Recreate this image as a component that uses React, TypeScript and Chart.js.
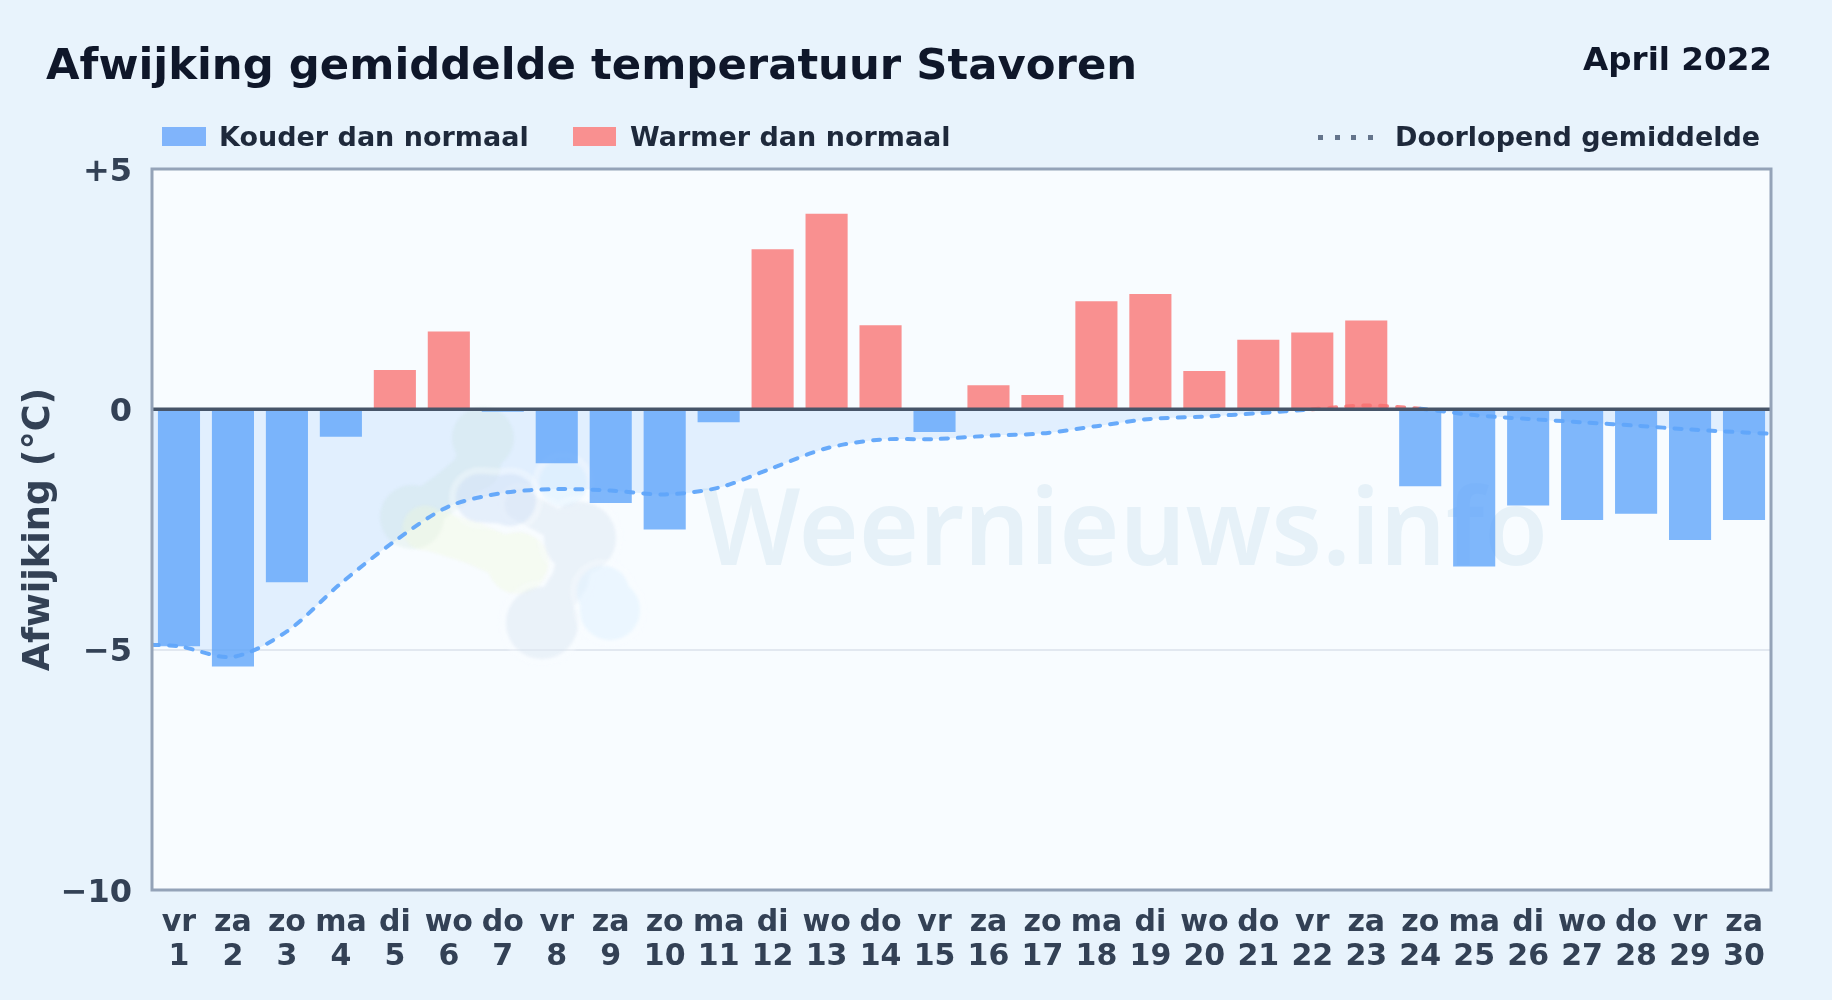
import React, { useEffect, useRef } from "react";
import { Chart, registerables } from "chart.js";

Chart.register(...registerables);

const TITLE = "Afwijking gemiddelde temperatuur Stavoren";
const PERIOD = "April 2022";
const weekdays = ["vr","za","zo","ma","di","wo","do","vr","za","zo","ma","di","wo","do","vr","za","zo","ma","di","wo","do","vr","za","zo","ma","di","wo","do","vr","za"];
const dayNumbers = ["1","2","3","4","5","6","7","8","9","10","11","12","13","14","15","16","17","18","19","20","21","22","23","24","25","26","27","28","29","30"];
const colder = [-4.93,-5.35,-3.6,-0.57,null,null,-0.05,-1.12,-1.95,-2.5,-0.27,null,null,null,-0.47,null,null,null,null,null,null,null,null,-1.6,-3.27,-2.0,-2.3,-2.17,-2.72,-2.3];
const warmer = [null,null,null,null,0.82,1.62,null,null,null,null,null,3.33,4.07,1.75,null,0.5,0.3,2.25,2.4,0.8,1.45,1.6,1.85,null,null,null,null,null,null,null];
const runningDays = [0.5,1,2,3,4,5,6,7,8,9,10,11,12,13,14,15,16,17,18,19,20,21,22,23,24,25,26,27,28,29,30,30.5];
const runningMean = [-4.9,-4.93,-5.15,-4.62,-3.62,-2.74,-2.02,-1.74,-1.66,-1.69,-1.77,-1.63,-1.22,-0.81,-0.63,-0.62,-0.55,-0.5,-0.35,-0.2,-0.15,-0.08,0.0,0.08,0.01,-0.12,-0.2,-0.27,-0.34,-0.42,-0.48,-0.51];
const yTicks: Record<string, string> = { "5": "+5", "0": "0", "-5": "\u22125", "-10": "\u221210" };

const BLUE_LINE = "rgba(96,165,250,0.95)";
const RED_LINE = "rgba(248,113,113,0.85)";

type Node = [number, number, number];

const paintBlob = (ctx: CanvasRenderingContext2D, nodes: Node[], grow: number, color: string, alpha: number) => {
  const layer = document.createElement("canvas");
  layer.width = 1832;
  layer.height = 1000;
  const g = layer.getContext("2d")!;
  g.strokeStyle = color;
  g.fillStyle = color;
  g.lineCap = "round";
  nodes.forEach((n, i) => {
    g.beginPath();
    g.arc(n[0], n[1], (n[2] + grow) / 2, 0, Math.PI * 2);
    g.fill();
    const next = nodes[i + 1];
    if (next) {
      g.lineWidth = Math.min(n[2], next[2]) + grow;
      g.beginPath();
      g.moveTo(n[0], n[1]);
      g.lineTo(next[0], next[1]);
      g.stroke();
    }
  });
  ctx.save();
  ctx.globalAlpha = alpha;
  ctx.filter = "blur(1.5px)";
  ctx.drawImage(layer, 0, 0);
  ctx.restore();
};

const backdropPlugin = {
  id: "backdrop",
  beforeDraw(chart: any) {
    const { ctx, chartArea: a } = chart;
    ctx.save();
    ctx.fillStyle = "#f8fcff";
    ctx.fillRect(a.left, a.top, a.right - a.left, a.bottom - a.top);
    ctx.restore();
  },
  beforeDatasetsDraw(chart: any) {
    const { ctx } = chart;
    const halo = "#f8fcff";
    paintBlob(ctx, [[483, 438, 62], [477, 467, 46], [450, 490, 40], [412, 517, 64]], 0, "rgb(190,220,205)", 0.2);
    paintBlob(ctx, [[425, 528, 45], [473, 543, 42], [518, 563, 62]], 0, "rgb(240,248,215)", 0.32);
    const top: Node[] = [[563, 483, 48]];
    paintBlob(ctx, top, 14, halo, 0.35);
    paintBlob(ctx, top, 0, "rgb(200,230,255)", 0.3);
    const grey: Node[] = [[520, 505, 30], [580, 538, 72], [570, 580, 36], [542, 623, 72]];
    paintBlob(ctx, grey, 14, halo, 0.35);
    paintBlob(ctx, grey, 0, "rgb(205,220,235)", 0.32);
    const blue: Node[] = [[480, 498, 48], [510, 500, 52]];
    paintBlob(ctx, blue, 14, halo, 0.35);
    paintBlob(ctx, blue, 0, "rgb(190,212,242)", 0.32);
    const light: Node[] = [[603, 592, 52], [610, 610, 60]];
    paintBlob(ctx, light, 14, halo, 0.35);
    paintBlob(ctx, light, 0, "rgb(215,238,255)", 0.4);
    ctx.save();
    ctx.font = "600 106px 'Noto Sans'";
    ctx.fillStyle = "rgba(128,178,208,0.15)";
    ctx.textAlign = "left";
    ctx.textBaseline = "alphabetic";
    ctx.fillText("Weernieuws.info", 702, 565, 846);
    ctx.restore();
  },
  afterDatasetsDraw(chart: any) {
    const { ctx, chartArea: a, scales } = chart;
    const zero = scales.y.getPixelForValue(0);
    ctx.save();
    ctx.strokeStyle = "#475569";
    ctx.lineWidth = 3.5;
    ctx.beginPath();
    ctx.moveTo(a.left, zero);
    ctx.lineTo(a.right, zero);
    ctx.stroke();
    ctx.strokeStyle = "#94a3b8";
    ctx.lineWidth = 3;
    ctx.strokeRect(a.left, a.top, a.right - a.left, a.bottom - a.top);
    ctx.restore();
  },
};

const textBase: React.CSSProperties = {
  position: "absolute",
  fontFamily: "'DejaVu Sans'",
  fontWeight: 700,
  lineHeight: 1,
  whiteSpace: "nowrap",
};

export default function App() {
  const ref = useRef<HTMLCanvasElement>(null);
  useEffect(() => {
    document.body.style.margin = "0";
    const chart = new Chart(ref.current!, {
      type: "bar",
      data: {
        labels: weekdays.map((d, i) => [d, dayNumbers[i]]),
        datasets: [
          { type: "line", label: "Doorlopend gemiddelde", xAxisID: "x2", data: runningDays.map((x, i) => ({ x, y: runningMean[i] })), borderColor: BLUE_LINE, borderWidth: 4, borderDash: [7, 10], borderCapStyle: "round", pointRadius: 0, tension: 0.3, order: 1,
            fill: { target: { value: 0 }, above: "rgba(248,113,113,0.15)", below: "rgba(96,165,250,0.15)" },
            segment: { borderColor: (c: any) => (c.p0.parsed.y >= 0 && c.p1.parsed.y >= 0 ? RED_LINE : BLUE_LINE) } } as any,
          { label: "Kouder dan normaal", data: colder, backgroundColor: "rgba(96,165,250,0.8)", grouped: false, barPercentage: 0.78, categoryPercentage: 1, order: 2 } as any,
          { label: "Warmer dan normaal", data: warmer, backgroundColor: "rgba(248,113,113,0.78)", grouped: false, barPercentage: 0.78, categoryPercentage: 1, order: 2 } as any,
        ],
      },
      options: {
        animation: false,
        responsive: false,
        devicePixelRatio: 1,
        layout: { padding: { left: 0, top: 169, right: 61, bottom: 0 } },
        plugins: { legend: { display: false }, title: { display: false }, tooltip: { enabled: false }, filler: { drawTime: "beforeDatasetsDraw" } },
        scales: {
          x: {
            grid: { display: false },
            border: { display: false },
            afterFit: (s: any) => { s.height = 110; },
            ticks: { color: "#334155", padding: 8, maxRotation: 0, minRotation: 0, autoSkip: false, font: { family: "'DejaVu Sans'", weight: "bold", size: 30, lineHeight: 1.133 } },
          },
          x2: { type: "linear", min: 0.5, max: 30.5, display: false, offset: false, grid: { display: false } },
          y: {
            min: -10,
            max: 5,
            afterFit: (s: any) => { s.width = 152; },
            border: { display: false },
            grid: { color: "#e2e8f0", lineWidth: 2, drawTicks: false },
            ticks: { stepSize: 5, padding: 20, labelOffset: 3.5, color: "#334155", font: { family: "'DejaVu Sans'", weight: "bold", size: 32 }, callback: (v: any) => yTicks[String(v)] },
            title: { display: true, text: "Afwijking (\u00b0C)", color: "#334155", padding: { top: 18, bottom: 0 }, font: { family: "'DejaVu Sans'", weight: "bold", size: 36.6 } },
          },
        },
      },
      plugins: [backdropPlugin],
    } as any);
    return () => chart.destroy();
  }, []);
  return (
    <div style={{ position: "relative", width: 1832, height: 1000, overflow: "hidden", background: "#e8f3fc" }}>
      <canvas ref={ref} width={1832} height={1000} style={{ position: "absolute", left: 0, top: 0, width: 1832, height: 1000 }} />
      <div style={{ ...textBase, left: 46, top: 43.3, fontSize: 43.35, color: "#0f172a" }}>{TITLE}</div>
      <div style={{ ...textBase, right: 60, top: 43.4, fontSize: 32.6, color: "#0f172a" }}>{PERIOD}</div>
      <div style={{ position: "absolute", left: 162, top: 127, width: 44, height: 19, background: "#80b4fb" }} />
      <div style={{ ...textBase, left: 219, top: 123, fontSize: 27, color: "#1e293b" }}>Kouder dan normaal</div>
      <div style={{ position: "absolute", left: 573, top: 127, width: 43, height: 19, background: "#f99090" }} />
      <div style={{ ...textBase, left: 630, top: 123, fontSize: 27, color: "#1e293b" }}>Warmer dan normaal</div>
      <div style={{ position: "absolute", left: 1318, top: 134.5, width: 56, height: 5, background: "repeating-linear-gradient(90deg,#64748b 0 5px,transparent 5px 16.6px)" }} />
      <div style={{ ...textBase, left: 1395, top: 123, fontSize: 27, color: "#1e293b" }}>Doorlopend gemiddelde</div>
    </div>
  );
}
